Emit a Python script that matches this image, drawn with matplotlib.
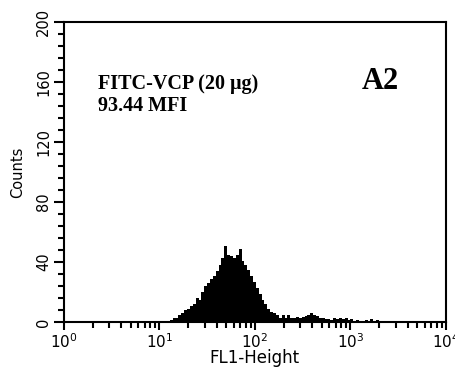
import numpy as np
import matplotlib.pyplot as plt
from matplotlib.ticker import LogLocator, MultipleLocator, NullFormatter

# FL1 histogram, channels binned in log10 steps
fl1_start = 1.08
fl1_step = 0.03
counts = [0.5, 1.5, 3, 3, 5, 6, 8, 9, 11, 12,
          16, 15, 20, 24, 26, 29, 31, 34, 38, 43,
          51, 45, 44, 43, 45, 49, 41, 38, 35, 31,
          27, 23, 19, 15, 12, 9, 7, 6, 5, 3,
          4.5, 3, 4.5, 3, 3, 3.5, 3, 3.5, 4, 5,
          6, 5, 4, 3, 2.5, 2, 2, 1.5, 2.5, 2,
          3, 2, 2.5, 1.5, 2, 1, 1.5, 1, 1, 1.5,
          1, 2, 1, 1.5, 0.5, 0.5, 0, 1, 0]

sample_label = 'FITC-VCP (20 \u03bcg)'
mfi_label = '93.44 MFI'
panel_label = 'A2'

edges = 10 ** (fl1_start + fl1_step * np.arange(len(counts) + 1))

fig = plt.figure(figsize=(4.56, 3.72), dpi=100)
ax = fig.add_axes([0.140, 0.134, 0.838, 0.807])

ax.stairs(counts, edges, fill=True, color='black', linewidth=0)

ax.set_xscale('log')
ax.set_xlim(1, 1e4)
ax.set_ylim(0, 200)

ax.yaxis.set_major_locator(MultipleLocator(40))
ax.yaxis.set_minor_locator(MultipleLocator(8))
ax.xaxis.set_major_locator(LogLocator(base=10))
ax.xaxis.set_minor_locator(LogLocator(base=10, subs=np.arange(2, 10)))
ax.xaxis.set_minor_formatter(NullFormatter())

for s in ax.spines.values():
    s.set_linewidth(1.5)

ax.tick_params(axis='both', which='both', direction='out', width=1.5,
               top=False, right=False)
ax.tick_params(axis='y', which='major', length=7, labelsize=10.5, pad=2)
ax.tick_params(axis='y', which='minor', length=4)
ax.tick_params(axis='x', which='major', length=6, labelsize=11, pad=1)
ax.tick_params(axis='x', which='minor', length=4)
for lbl in ax.get_yticklabels():
    lbl.set_rotation(90)
    lbl.set_va('center')

ax.set_ylabel('Counts', fontsize=10.5, labelpad=8)
ax.set_xlabel('FL1-Height', fontsize=12, labelpad=-1)

ax.text(0.09, 0.775, sample_label, transform=ax.transAxes,
        family='Liberation Serif', weight='bold', fontsize=14.5)
ax.text(0.09, 0.705, mfi_label, transform=ax.transAxes,
        family='Liberation Serif', weight='bold', fontsize=14.5)
ax.text(0.78, 0.775, panel_label, transform=ax.transAxes,
        family='Liberation Serif', weight='bold', fontsize=22)

fig.savefig('out.png', dpi=100)
